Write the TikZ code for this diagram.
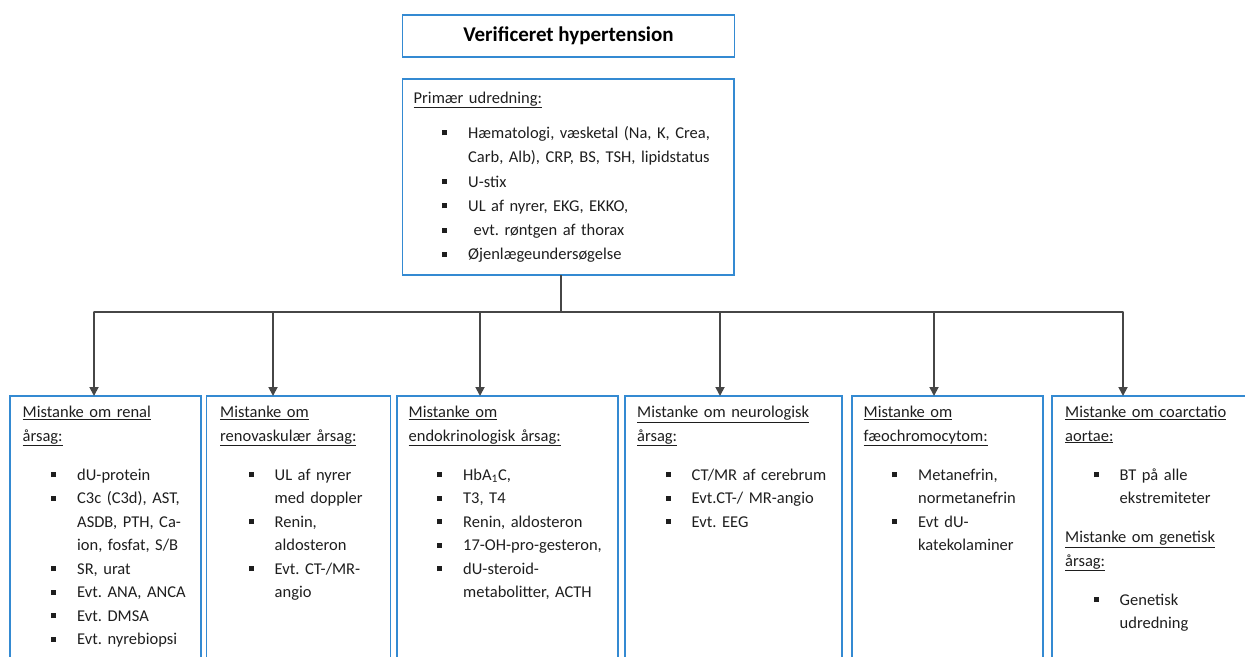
\documentclass[tikz,border=0pt]{standalone}
\usepackage{fontspec}
\setmainfont{Carlito}
\usepackage{tikz}
\usetikzlibrary{calc}
\usetikzlibrary{arrows.meta}
\frenchspacing

\definecolor{rammeblaa}{RGB}{52,138,210}
\definecolor{linjegraa}{RGB}{70,70,70}
\definecolor{tekstgraa}{RGB}{30,30,30}

% punkt med firkant og fortsat linje
\newcommand{\pkt}[1]{\hspace*{28.5pt}\rule[3pt]{5pt}{5pt}\hspace{21pt}#1}
\newcommand{\fort}[1]{\hspace*{54.5pt}#1}

\begin{document}
\begin{tikzpicture}
[
    x=1pt, y=-1pt,
    boks/.style={draw=rammeblaa, line width=1.6pt, rectangle, inner sep=0pt,
      outer sep=0pt, anchor=north west},
    tekst/.style={anchor=north west, inner sep=0pt, align=left, text width=330pt,
      text=tekstgraa, font=\fontsize{16.5}{23.5}\selectfont},
    linje/.style={draw=linjegraa, line width=1.8pt},
    pil/.style={linje, -{Triangle[length=9pt,width=9pt]}}
]
\useasboundingbox (0,0) rectangle (1245,656);
\clip (0,0) rectangle (1245,656);

% top
\node[boks, anchor=center, minimum width=332, minimum height=42,
  font=\bfseries\fontsize{21}{24}\selectfont] (titel) at (568.5,36) {Verificeret hypertension};
\node[boks, minimum width=331.5, minimum height=196] (primaer) at (402.5,79) {};
\node[tekst, font=\fontsize{16.5}{24.3}\selectfont] (primaertekst) at ($(primaer.north west)+(11,12.5)$) {%
\underline{Primær udredning:}\\[11pt]
\pkt{Hæmatologi, væsketal (Na, K, Crea,}\\
\fort{Carb, Alb), CRP, BS, TSH, lipidstatus}\\
\pkt{U-stix}\\
\pkt{UL af nyrer, EKG, EKKO,}\\
\pkt{\ evt. røntgen af thorax}\\
\pkt{Øjenlægeundersøgelse}};

% boksene forneden
\node[boks, minimum width=191, minimum height=300] (renal) at (10,396) {};
\node[boks, minimum width=184, minimum height=300] (renovask) at (206.5,396) {};
\node[boks, minimum width=221, minimum height=300] (endokrin) at (397,396) {};
\node[boks, minimum width=217, minimum height=300] (neuro) at (625,396) {};
\node[boks, minimum width=191, minimum height=300] (faeo) at (852,396) {};
\node[boks, minimum width=208, minimum height=300] (coarc) at (1052,396) {};

\node[tekst] (renaltekst) at ($(renal.north west)+(12.5,10)$) {%
\underline{Mistanke om renal}\\
\underline{årsag:}\\[15.5pt]
\pkt{dU-protein}\\
\pkt{C3c (C3d), AST,}\\
\fort{ASDB, PTH, Ca-}\\
\fort{ion, fosfat, S/B}\\
\pkt{SR, urat}\\
\pkt{Evt. ANA, ANCA}\\
\pkt{Evt. DMSA}\\
\pkt{Evt. nyrebiopsi}};

\node[tekst] (renovasktekst) at ($(renovask.north west)+(13.5,10)$) {%
\underline{Mistanke om}\\
\underline{renovaskulær årsag:}\\[15.5pt]
\pkt{UL af nyrer}\\
\fort{med doppler}\\
\pkt{Renin,}\\
\fort{aldosteron}\\
\pkt{Evt. CT-/MR-}\\
\fort{angio}};

\node[tekst] (endokrintekst) at ($(endokrin.north west)+(11.5,10)$) {%
\underline{Mistanke om}\\
\underline{endokrinologisk årsag:}\\[15.5pt]
\pkt{HbA\textsubscript{1}C,}\\
\pkt{T3, T4}\\
\pkt{Renin, aldosteron}\\
\pkt{17-OH-pro-gesteron,}\\
\pkt{dU-steroid-}\\
\fort{metabolitter, ACTH}};

\node[tekst] (neurotekst) at ($(neuro.north west)+(12,10)$) {%
\underline{Mistanke om neurologisk}\\
\underline{årsag:}\\[15.5pt]
\pkt{CT/MR af cerebrum}\\
\pkt{Evt.CT-/ MR-angio}\\
\pkt{Evt. EEG}};

\node[tekst] (faeotekst) at ($(faeo.north west)+(11.5,10)$) {%
\underline{Mistanke om}\\
\underline{fæochromocytom:}\\[15.5pt]
\pkt{Metanefrin,}\\
\fort{normetanefrin}\\
\pkt{Evt dU-}\\
\fort{katekolaminer}};

\node[tekst] (coarctekst) at ($(coarc.north west)+(13,10)$) {%
\underline{Mistanke om coarctatio}\\
\underline{aortae:}\\[15.5pt]
\pkt{BT på alle}\\
\fort{ekstremiteter}\\[15.5pt]
\underline{Mistanke om genetisk}\\
\underline{årsag:}\\[15.5pt]
\pkt{Genetisk}\\
\fort{udredning}};

% forbindelser
\coordinate (s1) at (94,312);
\coordinate (s2) at (273,312);
\coordinate (s3) at (480,312);
\coordinate (s4) at (720,312);
\coordinate (s5) at (934,312);
\coordinate (s6) at (1123,312);
\draw[linje] (primaer.south -| 561,0) -- (s1 -| 561,0);
\draw[linje, line cap=round] (s1) -- (s6);
\draw[pil] (s1) -- (s1 |- renal.north);
\draw[pil] (s2) -- (s2 |- renovask.north);
\draw[pil] (s3) -- (s3 |- endokrin.north);
\draw[pil] (s4) -- (s4 |- neuro.north);
\draw[pil] (s5) -- (s5 |- faeo.north);
\draw[pil] (s6) -- (s6 |- coarc.north);
\end{tikzpicture}
\end{document}
